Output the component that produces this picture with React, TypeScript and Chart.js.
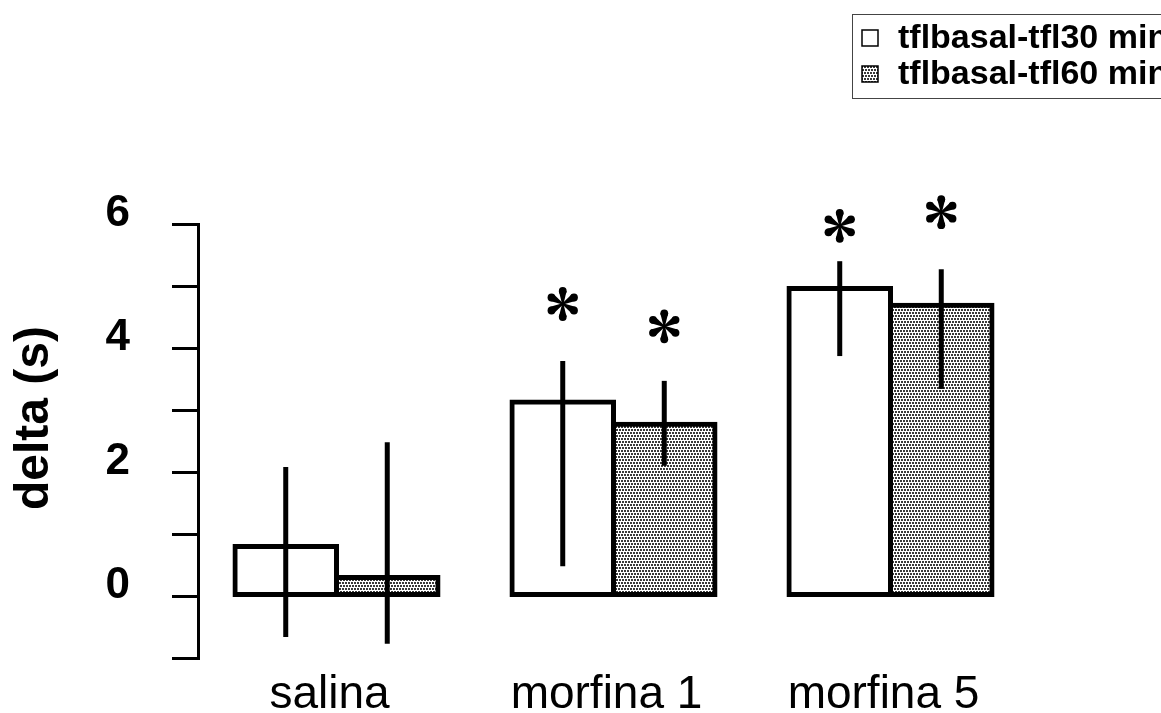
import React, { useEffect, useRef } from "react";
import { Chart, registerables } from "chart.js";

Chart.register(...registerables);

const categories = ["salina", "morfina 1", "morfina 5"];
const seriesLabels = ["tflbasal-tfl30 min", "tflbasal-tfl60 min"];
const values30 = [0.8, 3.13, 4.96];
const values60 = [0.3, 2.77, 4.69];
const errLow30 = [-0.66, 0.48, 3.87];
const errHigh30 = [2.08, 3.79, 5.4];
const errLow60 = [-0.77, 2.1, 3.34];
const errHigh60 = [2.48, 3.47, 5.27];
const star30: (number | null)[] = [null, 4.71, 5.97];
const star60: (number | null)[] = [null, 4.35, 6.19];
const yMin = -1;
const yMax = 6;
const yLabeledTicks = [0, 2, 4, 6];
const yTitle = "delta (s)";

const FONT = "'Liberation Sans', Arial, sans-serif";

function makePattern(ctx: CanvasRenderingContext2D): CanvasPattern | string {
  const c = document.createElement("canvas");
  c.width = 6;
  c.height = 6;
  const g = c.getContext("2d");
  if (!g) return "#b0b0b0";
  g.fillStyle = "#ffffff";
  g.fillRect(0, 0, 6, 6);
  g.fillStyle = "#3a3a3a";
  [
    [0, 0],
    [3, 0],
    [1, 3],
    [4, 3],
  ].forEach(([x, y]) => g.fillRect(x, y, 2, 2));
  return ctx.createPattern(c, "repeat") || "#b0b0b0";
}

function drawAsterisk(ctx: CanvasRenderingContext2D, cx: number, cy: number) {
  ctx.save();
  ctx.fillStyle = "#000";
  const angles = [90, 30, -30, -90, -150, 150];
  for (const a of angles) {
    const r = (a * Math.PI) / 180;
    const dx = Math.cos(r);
    const dy = -Math.sin(r);
    const tipR = 13;
    const rad = 3.9;
    const px = cx + dx * tipR;
    const py = cy + dy * tipR;
    ctx.beginPath();
    ctx.arc(px, py, rad, 0, Math.PI * 2);
    ctx.fill();
    const nx = -dy;
    const ny = dx;
    ctx.beginPath();
    ctx.moveTo(cx + nx * 0.7, cy + ny * 0.7);
    ctx.lineTo(px + nx * rad, py + ny * rad);
    ctx.lineTo(px - nx * rad, py - ny * rad);
    ctx.lineTo(cx - nx * 0.7, cy - ny * 0.7);
    ctx.closePath();
    ctx.fill();
  }
  ctx.beginPath();
  ctx.arc(cx, cy, 2, 0, Math.PI * 2);
  ctx.fill();
  ctx.restore();
}

export default function App() {
  const canvasRef = useRef<HTMLCanvasElement | null>(null);

  useEffect(() => {
    document.body.style.margin = "0";
    const canvas = canvasRef.current;
    if (!canvas) return;
    const ctx = canvas.getContext("2d");
    if (!ctx) return;
    const pattern = makePattern(ctx);

    const lows = [errLow30, errLow60];
    const highs = [errHigh30, errHigh60];
    const stars = [star30, star60];

    const overlay = {
      id: "overlay",
      afterDatasetsDraw(chart: any) {
        const c = chart.ctx as CanvasRenderingContext2D;
        const yScale = chart.scales.y;
        c.save();
        chart.data.datasets.forEach((_ds: any, di: number) => {
          const meta = chart.getDatasetMeta(di);
          meta.data.forEach((bar: any, i: number) => {
            const x = bar.x;
            const y1 = yScale.getPixelForValue(lows[di][i]);
            const y2 = yScale.getPixelForValue(highs[di][i]);
            c.strokeStyle = "#000";
            c.lineWidth = 5;
            c.lineCap = "butt";
            c.beginPath();
            c.moveTo(x, y1);
            c.lineTo(x, y2);
            c.stroke();
            const s = stars[di][i];
            if (s !== null && s !== undefined) {
              drawAsterisk(c, x, yScale.getPixelForValue(s));
            }
          });
        });
        c.restore();
      },
      afterDraw(chart: any) {
        const c = chart.ctx as CanvasRenderingContext2D;
        c.save();
        c.translate(35, 418);
        c.rotate(-Math.PI / 2);
        c.fillStyle = "#000";
        c.font = `bold 48px ${FONT}`;
        c.textAlign = "center";
        c.textBaseline = "middle";
        c.fillText(yTitle, 0, 0);
        c.restore();

        c.save();
        c.strokeStyle = "#444";
        c.lineWidth = 1;
        c.strokeRect(852.5, 14.5, 400, 84);
        const rows = [38, 74];
        chart.data.datasets.forEach((ds: any, di: number) => {
          const cy = rows[di];
          c.fillStyle = ds.backgroundColor;
          c.fillRect(862, cy - 8, 16, 16);
          c.strokeStyle = "#000";
          c.lineWidth = 1.5;
          c.strokeRect(862, cy - 8, 16, 16);
          c.fillStyle = "#000";
          c.font = `bold 34px ${FONT}`;
          c.textAlign = "left";
          c.textBaseline = "middle";
          c.fillText(ds.label, 898, cy + 1);
        });
        c.restore();
      },
    };

    const chart = new Chart(ctx, {
      type: "bar",
      data: {
        labels: categories,
        datasets: [
          {
            label: seriesLabels[0],
            data: values30,
            backgroundColor: "#ffffff",
            borderColor: "#000000",
            borderWidth: 5,
            borderSkipped: false,
            inflateAmount: 2.5,
          },
          {
            label: seriesLabels[1],
            data: values60,
            backgroundColor: pattern as any,
            borderColor: "#000000",
            borderWidth: 5,
            borderSkipped: false,
            inflateAmount: 2.5,
          },
        ],
      },
      options: {
        responsive: false,
        animation: false,
        devicePixelRatio: 1,
        categoryPercentage: 0.733,
        barPercentage: 1.0,
        layout: { padding: { top: 224, right: 132, left: 0, bottom: 0 } },
        plugins: {
          legend: { display: false },
          tooltip: { enabled: false },
          title: { display: false },
        },
        scales: {
          x: {
            grid: { display: false, drawTicks: false },
            border: { display: false },
            ticks: {
              color: "#000",
              font: { family: FONT, size: 46 },
              padding: 10,
              labelOffset: -7,
              maxRotation: 0,
              autoSkip: false,
            },
            afterFit(scale: any) {
              scale.height = 55;
            },
          },
          y: {
            min: yMin,
            max: yMax,
            grid: {
              drawOnChartArea: false,
              drawTicks: true,
              tickLength: 26,
              lineWidth: 3,
              color: "#000",
            },
            border: { display: true, width: 3, color: "#000" },
            ticks: {
              stepSize: 1,
              color: "#000",
              font: { family: FONT, size: 44, weight: "bold" },
              padding: 42,
              labelOffset: -10,
              callback: (v: any) => (yLabeledTicks.includes(Number(v)) ? String(v) : ""),
            },
            afterFit(scale: any) {
              scale.width = 198;
              scale.paddingTop = 0;
              scale.paddingBottom = 0;
            },
          },
        },
      },
      plugins: [overlay],
    } as any);

    return () => {
      chart.destroy();
    };
  }, []);

  return (
    <div style={{ width: 1161, height: 713, background: "#fff" }}>
      <canvas ref={canvasRef} width={1161} height={713} style={{ display: "block" }} />
    </div>
  );
}
